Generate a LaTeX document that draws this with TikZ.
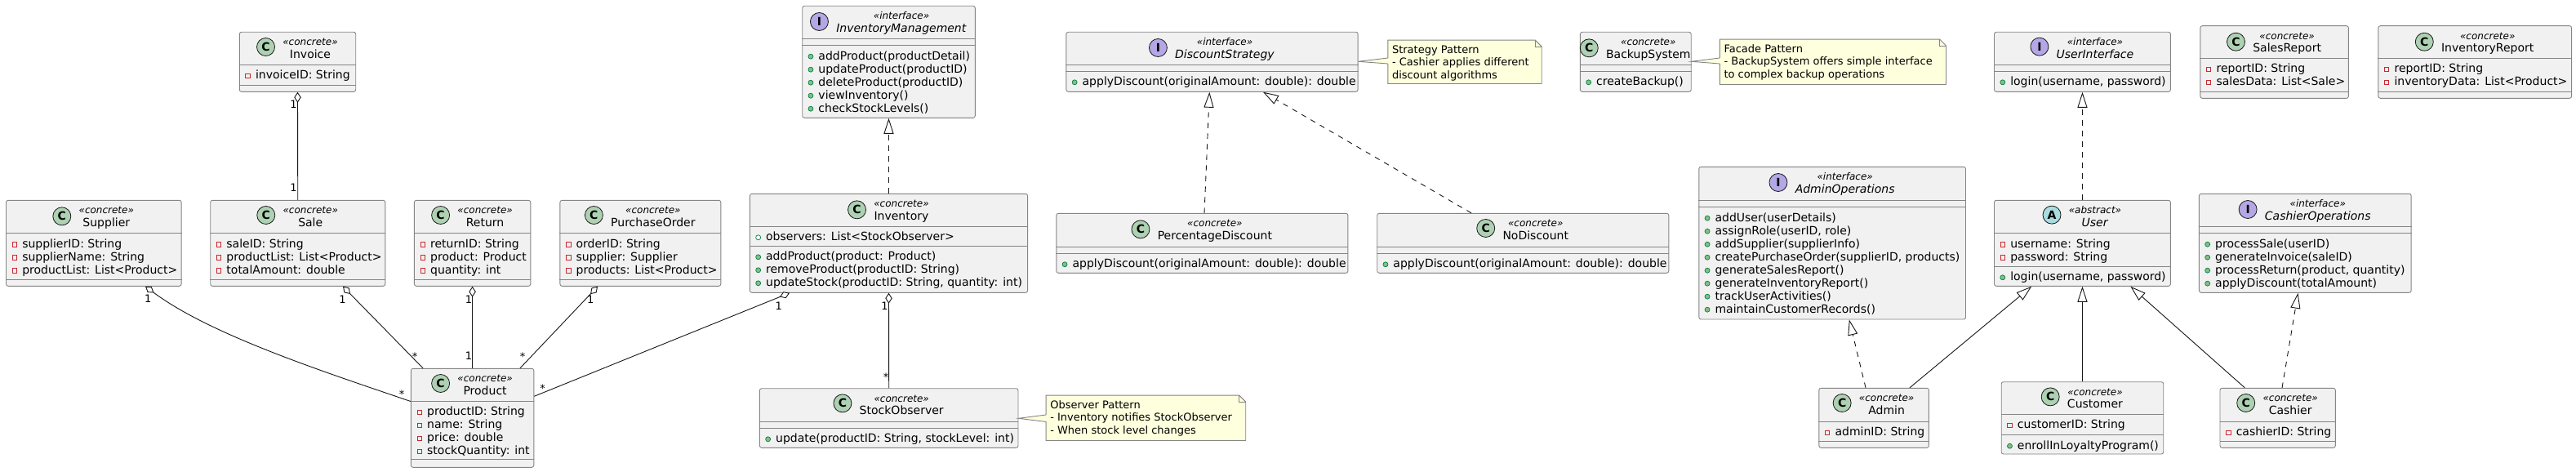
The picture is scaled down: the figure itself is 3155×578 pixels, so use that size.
\documentclass[tikz,border=0pt]{standalone}
\usepackage{fontspec}
\setmainfont{DejaVu Sans}
\usetikzlibrary{arrows.meta,positioning,fit}

\definecolor{boxfill}{HTML}{F1F1F1}
\definecolor{boxline}{HTML}{858585}
\definecolor{linkline}{HTML}{181818}
\definecolor{concretec}{HTML}{ADD1B2}
\definecolor{interfacec}{HTML}{B4A7E5}
\definecolor{abstractc}{HTML}{A9DCDF}
\definecolor{notefill}{HTML}{FEFFDD}
\definecolor{privred}{HTML}{C82930}
\definecolor{pubfill}{HTML}{84BE84}
\definecolor{publine}{HTML}{038048}

% class box: name, corner, corner, separator ys
\newcommand{\umlclass}[4]{%
  \node[classbox, fit={#2 #3}] (#1) {};
  \foreach \sy in {#4} \draw[sepline] (#1.west |- 0,\sy) -- (#1.east |- 0,\sy);
}
% header: name, icon colour, letter, stereotype, title
\newcommand{\umlhead}[5]{%
  \path (#1.north) ++(15.5,17) node[stereo] (#1-st) {«#4»};
  \path (#1.north) ++(15.5,32.5) node[cname] (#1-nm) {#5};
  \node[fit=(#1-st)(#1-nm), inner sep=0pt] (#1-tx) {};
  \node[classicon, fill=#2, left=9pt of #1-tx, yshift=2pt] (#1-ic) {#3};
}
% members: name, compartment top, icon style, rows
\newcommand{\umlrows}[4]{%
  \foreach \txt [count=\k from 0] in {#4}{
    \path (#1.west |- 0,#2) ++(10.7,{13.5+16*\k}) node[#3] {};
    \path (#1.west |- 0,#2) ++(20,{17.5+16*\k}) node[member] {\txt};
  }
}
% note: name, corner, corner, text
\newcommand{\umlnote}[4]{%
  \node[fit={#2 #3}, inner sep=0pt] (#1) {};
  \filldraw[notebox] (#1.south west) -- (#1.north west) -- ([xshift=-8pt]#1.north east)
    -- ([yshift=-8pt]#1.north east) -- (#1.south east) -- cycle;
  \draw[noteline] ([xshift=-8pt]#1.north east) |- ([yshift=-8pt]#1.north east);
  \node[notetext] (#1-tx) at ([xshift=5pt,yshift=-5.5pt]#1.north west) {#4};
}
% note tail: box, note, apex y, base y, base y
\newcommand{\umltail}[5]{%
  \path (#2.west |- 0,#4) coordinate (#2-b1) (#2.west |- 0,#5) coordinate (#2-b2);
  \fill[notefill] (#1.east |- 0,#3) -- ([xshift=1.5pt]#2-b1) -- ([xshift=1.5pt]#2-b2) -- cycle;
  \draw[noteline] (#2-b1) -- (#1.east |- 0,#3) -- (#2-b2);
}

\begin{document}
\begin{tikzpicture}[x=1pt, y=-1pt,
    classbox/.style = {draw=boxline, fill=boxfill, line width=0.9pt, rounded corners=2.5pt, inner sep=0pt},
    sepline/.style = {draw=boxline, line width=0.9pt},
    stereo/.style = {anchor=base, inner sep=0pt, font=\fontsize{12}{14}\selectfont\itshape},
    cname/.style = {anchor=base, inner sep=0pt, font=\fontsize{14}{16}\selectfont},
    member/.style = {anchor=base west, inner sep=0pt, font=\fontsize{14}{16}\selectfont},
    classicon/.style = {circle, draw=linkline, line width=0.8pt, minimum size=22pt, inner sep=0pt, font=\fontsize{14}{14}\selectfont\bfseries},
    priv/.style = {rectangle, draw=privred, line width=0.8pt, minimum size=5.5pt, inner sep=0pt},
    pubm/.style = {circle, draw=publine, fill=pubfill, line width=0.7pt, minimum size=6pt, inner sep=0pt},
    pubf/.style = {circle, draw=publine, fill=white, line width=0.7pt, minimum size=6pt, inner sep=0pt},
    notebox/.style = {fill=notefill, draw=boxline, line width=0.9pt},
    noteline/.style = {draw=boxline, line width=0.9pt},
    notetext/.style = {anchor=north west, inner sep=0pt, align=left, font=\fontsize{13}{15.3}\selectfont},
    link/.style = {draw=linkline, line width=0.9pt},
    agg/.style = {link, arrows={Diamond[fill=white, length=13pt, width=8.5pt]-}},
    real/.style = {link, dash pattern=on 6.5pt off 6.5pt, arrows={-Triangle[fill=white, length=19pt, width=12pt]}},
    gen/.style = {link, arrows={-Triangle[fill=white, length=19pt, width=12pt]}},
    mult/.style = {anchor=base, inner sep=0pt, font=\fontsize{13}{15}\selectfont}
    ]
    \fill[white] (0,0) rectangle (3155,578);
    \useasboundingbox (0,0) rectangle (3155,578);

    % sales and stock classes
    \umlclass{invoice}{(293.3,39.3)}{(435.7,112.3)}{79.3,104.3}
    \umlhead{invoice}{concretec}{C}{concrete}{Invoice}
    \umlrows{invoice}{79.3}{priv}{invoiceID: String}

    \umlclass{supplier}{(7.5,245.3)}{(222.1,350.3)}{285.7,342.3}
    \umlhead{supplier}{concretec}{C}{concrete}{Supplier}
    \umlrows{supplier}{285.7}{priv}{supplierID: String, supplierName: String, productList: List<Product>}

    \umlclass{sale}{(257.7,245.3)}{(471.8,350.3)}{285.7,342.3}
    \umlhead{sale}{concretec}{C}{concrete}{Sale}
    \umlrows{sale}{285.7}{priv}{saleID: String, productList: List<Product>, totalAmount: double}

    \umlclass{return}{(507.4,245.3)}{(649.8,350.3)}{285.7,342.3}
    \umlhead{return}{concretec}{C}{concrete}{Return}
    \umlrows{return}{285.7}{priv}{returnID: String, product: Product, quantity: int}

    \umlclass{purchaseorder}{(685.9,245.3)}{(882.8,350.3)}{285.7,342.3}
    \umlhead{purchaseorder}{concretec}{C}{concrete}{PurchaseOrder}
    \umlrows{purchaseorder}{285.7}{priv}{orderID: String, supplier: Supplier, products: List<Product>}

    \umlclass{product}{(503.4,451.3)}{(653.8,572.3)}{491.3,562.7}
    \umlhead{product}{concretec}{C}{concrete}{Product}
    \umlrows{product}{491.3}{priv}{productID: String, name: String, price: double, stockQuantity: int}

    \umlclass{invmgmt}{(982.7,7.3)}{(1194.3,144.3)}{47.7,55.7}
    \umlhead{invmgmt}{interfacec}{I}{interface}{\textit{InventoryManagement}}
    \umlrows{invmgmt}{55.7}{pubm}{addProduct(productDetail), updateProduct(productID), deleteProduct(productID), viewInventory(), checkStockLevels()}

    \umlclass{inventory}{(918.4,237.3)}{(1258.6,358.3)}{277.3,301.3}
    \umlhead{inventory}{concretec}{C}{concrete}{Inventory}
    \umlrows{inventory}{277.3}{pubf}{observers: List<StockObserver>}
    \umlrows{inventory}{301.3}{pubm}{addProduct(product: Product), removeProduct(productID: String), {updateStock(productID: String, quantity: int)}}

    \umlclass{stockobserver}{(930.4,475.7)}{(1247,548.3)}{516.3,524.3}
    \umlhead{stockobserver}{concretec}{C}{concrete}{StockObserver}
    \umlrows{stockobserver}{524.3}{pubm}{{update(productID: String, stockLevel: int)}}

    % discount and backup
    \umlclass{discount}{(1305.9,39.3)}{(1663.1,112.3)}{79.3,87.3}
    \umlhead{discount}{interfacec}{I}{interface}{\textit{DiscountStrategy}}
    \umlrows{discount}{87.3}{pubm}{applyDiscount(originalAmount: double): double}

    \umlclass{backup}{(1935.4,39.3)}{(2071.2,112.3)}{79.3,87.3}
    \umlhead{backup}{concretec}{C}{concrete}{BackupSystem}
    \umlrows{backup}{87.3}{pubm}{createBackup()}

    \umlclass{percentdisc}{(1293.8,261.3)}{(1650.9,334.3)}{302.3,310.3}
    \umlhead{percentdisc}{concretec}{C}{concrete}{PercentageDiscount}
    \umlrows{percentdisc}{310.3}{pubm}{applyDiscount(originalAmount: double): double}

    \umlclass{nodisc}{(1686.7,261.3)}{(2043.8,334.3)}{302.3,310.3}
    \umlhead{nodisc}{concretec}{C}{concrete}{NoDiscount}
    \umlrows{nodisc}{310.3}{pubm}{applyDiscount(originalAmount: double): double}

    % users
    \umlclass{adminops}{(2080.8,204.3)}{(2407.5,391)}{245.7,253.7}
    \umlhead{adminops}{interfacec}{I}{interface}{\textit{AdminOperations}}
    \umlrows{adminops}{253.7}{pubm}{addUser(userDetails), {assignRole(userID, role)}, addSupplier(supplierInfo), {createPurchaseOrder(supplierID, products)}, generateSalesReport(), generateInventoryReport(), trackUserActivities(), maintainCustomerRecords()}

    \umlclass{userif}{(2442.5,39.3)}{(2658.4,112.3)}{79.3,87.3}
    \umlhead{userif}{interfacec}{I}{interface}{\textit{UserInterface}}
    \umlrows{userif}{87.3}{pubm}{{login(username, password)}}

    \umlclass{salesreport}{(2694.8,31.7)}{(2876.4,120.3)}{71.3,112.3}
    \umlhead{salesreport}{concretec}{C}{concrete}{SalesReport}
    \umlrows{salesreport}{71.3}{priv}{reportID: String, salesData: List<Sale>}

    \umlclass{invreport}{(2912.8,31.7)}{(3149.6,120.3)}{71.3,112.3}
    \umlhead{invreport}{concretec}{C}{concrete}{InventoryReport}
    \umlrows{invreport}{71.3}{priv}{reportID: String, inventoryData: List<Product>}

    \umlclass{user}{(2442.5,245.3)}{(2658.4,350.3)}{285.7,326.3}
    \umlhead{user}{abstractc}{A}{abstract}{\textit{User}}
    \umlrows{user}{285.7}{priv}{username: String, password: String}
    \umlrows{user}{326.3}{pubm}{{login(username, password)}}

    \umlclass{cashierops}{(2693.4,237.3)}{(2953.1,358.3)}{277.7,285.7}
    \umlhead{cashierops}{interfacec}{I}{interface}{\textit{CashierOperations}}
    \umlrows{cashierops}{285.7}{pubm}{processSale(userID), generateInvoice(saleID), {processReturn(product, quantity)}, applyDiscount(totalAmount)}

    \umlclass{admin}{(2227.8,475.3)}{(2362.4,548.3)}{516.3,540.3}
    \umlhead{admin}{concretec}{C}{concrete}{Admin}
    \umlrows{admin}{516.3}{priv}{adminID: String}

    \umlclass{customer}{(2451.2,467.7)}{(2649.7,556)}{507.3,532.7}
    \umlhead{customer}{concretec}{C}{concrete}{Customer}
    \umlrows{customer}{507.3}{priv}{customerID: String}
    \umlrows{customer}{532.7}{pubm}{enrollInLoyaltyProgram()}

    \umlclass{cashier}{(2719,475.3)}{(2860.3,548.3)}{516.3,540.3}
    \umlhead{cashier}{concretec}{C}{concrete}{Cashier}
    \umlrows{cashier}{516.3}{priv}{cashierID: String}

    % notes
    \umlnote{strategynote}{(1700,49.3)}{(1888,102.3)}{\strut Strategy Pattern\\- Cashier applies different\\discount algorithms}
    \umltail{discount}{strategynote}{75.3}{71}{78}
    \umlnote{facadenote}{(2106.5,48.3)}{(2383.3,103.3)}{\strut Facade Pattern\\- BackupSystem offers simple interface\\to complex backup operations}
    \umltail{backup}{facadenote}{75.3}{71}{78}
    \umlnote{observernote}{(1281.3,484.3)}{(1525.5,539.3)}{\strut Observer Pattern\\- Inventory notifies StockObserver\\- When stock level changes}
    \umltail{stockobserver}{observernote}{512.3}{508}{516.5}

    % aggregations
    \draw[agg] (invoice.south) -- (sale.north);
    \draw[agg] (supplier.south -| 178,0) .. controls (258,410) and (393,454) .. (product.west |- 0,491.5);
    \draw[agg] (sale.south -| 420,0) -- (product.north -| 518,0);
    \draw[agg] (return.south) -- (product.north);
    \draw[agg] (purchaseorder.south -| 732,0) -- (product.north -| 637,0);
    \draw[agg] (inventory.south -| 967,0) -- (product.east |- 0,485.3);
    \draw[agg] (inventory.south) -- (stockobserver.north);

    \node[mult] (m-inv1) at (359.5,132.5) {1};
    \node[mult] (m-inv2) at (359.5,234) {1};
    \node[mult] (m-sup1) at (181.3,370.5) {1};
    \node[mult] (m-sup2) at (492,487) {*};
    \node[mult] (m-sal1) at (419.5,371) {1};
    \node[mult] (m-sal2) at (508,441) {*};
    \node[mult] (m-ret1) at (574,371) {1};
    \node[mult] (m-ret2) at (574,440.5) {1};
    \node[mult] (m-po1) at (723.3,371) {1};
    \node[mult] (m-po2) at (640,441) {*};
    \node[mult] (m-ip1) at (953.7,379.5) {1};
    \node[mult] (m-ip2) at (664.7,480) {*};
    \node[mult] (m-is1) at (1083.6,379.5) {1};
    \node[mult] (m-is2) at (1085,466.7) {*};

    % realizations and generalizations
    \draw[real] (inventory.north) -- (invmgmt.south);
    \draw[real] (percentdisc.north -| 1475,0) -- (discount.south -| 1481.3,0);
    \draw[real] (nodisc.north -| 1802,0) -- (discount.south -| 1547,0);
    \draw[real] (admin.north -| 2285,0) -- (adminops.south -| 2264.8,0);
    \draw[real] (cashier.north -| 2795,0) -- (cashierops.south -| 2814.5,0);
    \draw[real] (user.north) -- (userif.south);
    \draw[gen] (admin.north -| 2338.9,0) -- (user.south -| 2488.2,0);
    \draw[gen] (customer.north) -- (user.south);
    \draw[gen] (cashier.north -| 2749.3,0) -- (user.south -| 2609.3,0);
\end{tikzpicture}
\end{document}
